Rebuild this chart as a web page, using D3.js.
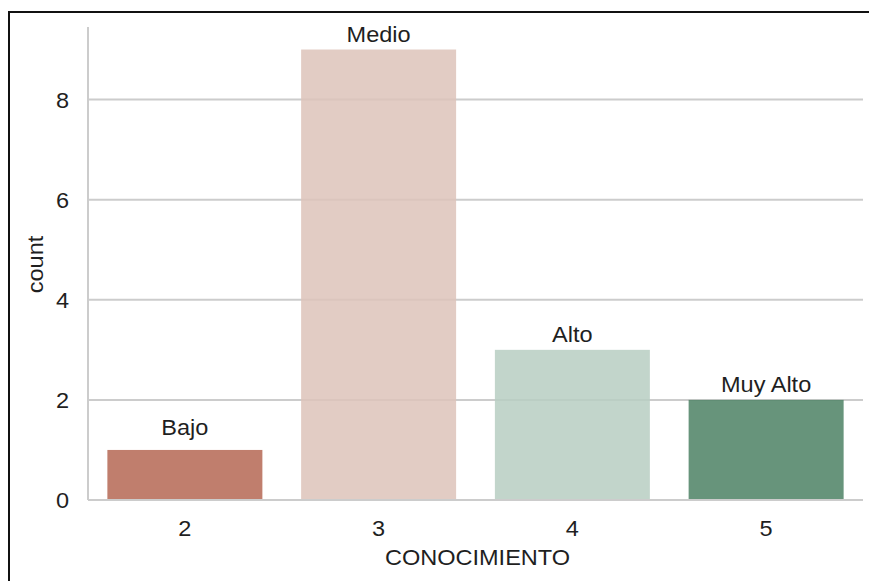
<!DOCTYPE html>
<html>
<head>
<meta charset="utf-8">
<script src="https://cdn.jsdelivr.net/npm/d3@7"></script>
<style>
  html, body { margin: 0; padding: 0; background: #fff; overflow: hidden; }
  text { font-family: "Liberation Sans", Arial, sans-serif; fill: #1f1f1f; }
</style>
</head>
<body>
<svg id="chart"></svg>
<script>
        // Data
        const categories = ["2", "3", "4", "5"];
        const counts = [1, 9, 3, 2];
        const levelLabels = ["Bajo", "Medio", "Alto", "Muy Alto"];
        const yTicks = [0, 2, 4, 6, 8];

        const data = categories.map((c, i) => ({ cat: c, count: counts[i], label: levelLabels[i] }));

        // Chart dimensions
        const width = 869, height = 581;
        const margin = { left: 88, right: 6, top: 27, bottom: 81 };
        const stretch = 1.07;   // the glyphs in the picture are a bit wider than Liberation Sans

        const svg = d3.select("#chart")
            .attr("width", width)
            .attr("height", height);

        // Frame line seen on the left and top of the picture
        svg.append("rect")
            .attr("x", 9).attr("y", 12)
            .attr("width", width * 2).attr("height", height * 2)
            .attr("fill", "none")
            .attr("stroke", "#111")
            .attr("stroke-width", 2);

        // Scales
        const x = d3.scaleBand()
            .domain(categories)
            .range([margin.left, width - margin.right])
            .paddingInner(0.2)
            .paddingOuter(0.1);

        const y = d3.scaleLinear()
            .domain([0, d3.max(counts) * 1.05])
            .range([height - margin.bottom, margin.top]);

        const color = d3.scaleOrdinal()
            .domain(levelLabels)
            .range(["#B56754", "#DDC3BA", "#B7CEC2", "#4C8164"]);

        // Grid lines
        svg.append("g")
            .selectAll("line")
            .data(yTicks.filter(t => t > 0))
            .join("line")
            .attr("x1", margin.left)
            .attr("x2", width - margin.right)
            .attr("y1", d => y(d))
            .attr("y2", d => y(d))
            .attr("stroke", "#cccccc")
            .attr("stroke-width", 2);

        // Bars
        svg.append("g")
            .selectAll("rect")
            .data(data)
            .join("rect")
            .attr("x", d => x(d.cat))
            .attr("width", x.bandwidth())
            .attr("y", d => y(d.count))
            .attr("height", d => y(0) - y(d.count))
            .attr("fill", d => color(d.label))
            .attr("fill-opacity", 0.85);

        // Spines (left and bottom)
        svg.append("line")
            .attr("x1", margin.left).attr("x2", margin.left)
            .attr("y1", y.range()[1]).attr("y2", y(0))
            .attr("stroke", "#cccccc").attr("stroke-width", 2);
        svg.append("line")
            .attr("x1", margin.left).attr("x2", width - margin.right)
            .attr("y1", y(0)).attr("y2", y(0))
            .attr("stroke", "#cccccc").attr("stroke-width", 2);

        // Helper: slightly widened text placed at (px, py)
        function addText(g, px, py, str, anchor, extra) {
            return g.append("text")
                .attr("transform", `translate(${px},${py}) ${extra || ""} scale(${stretch},1)`)
                .attr("text-anchor", anchor)
                .attr("font-size", 22)
                .text(str);
        }

        // Y tick labels
        const yAxis = svg.append("g");
        yTicks.forEach(t => {
            addText(yAxis, 69, y(t) + 8, t, "end");
        });

        // X tick labels
        const xAxis = svg.append("g");
        categories.forEach(c => {
            addText(xAxis, x(c) + x.bandwidth() / 2, 536, c, "middle");
        });

        // Axis titles
        addText(svg, (x.range()[0] + x.range()[1]) / 2 + 2, 565, "CONOCIMIENTO", "middle");
        addText(svg, 43, (y.range()[0] + y.range()[1]) / 2 + 1, "count", "middle", "rotate(-90)");

        // Bar labels
        const labelLift = { Bajo: 15 };
        const labels = svg.append("g");
        data.forEach(d => {
            addText(labels, x(d.cat) + x.bandwidth() / 2, y(d.count) - (labelLift[d.label] || 8), d.label, "middle");
        });
</script>
</body>
</html>
